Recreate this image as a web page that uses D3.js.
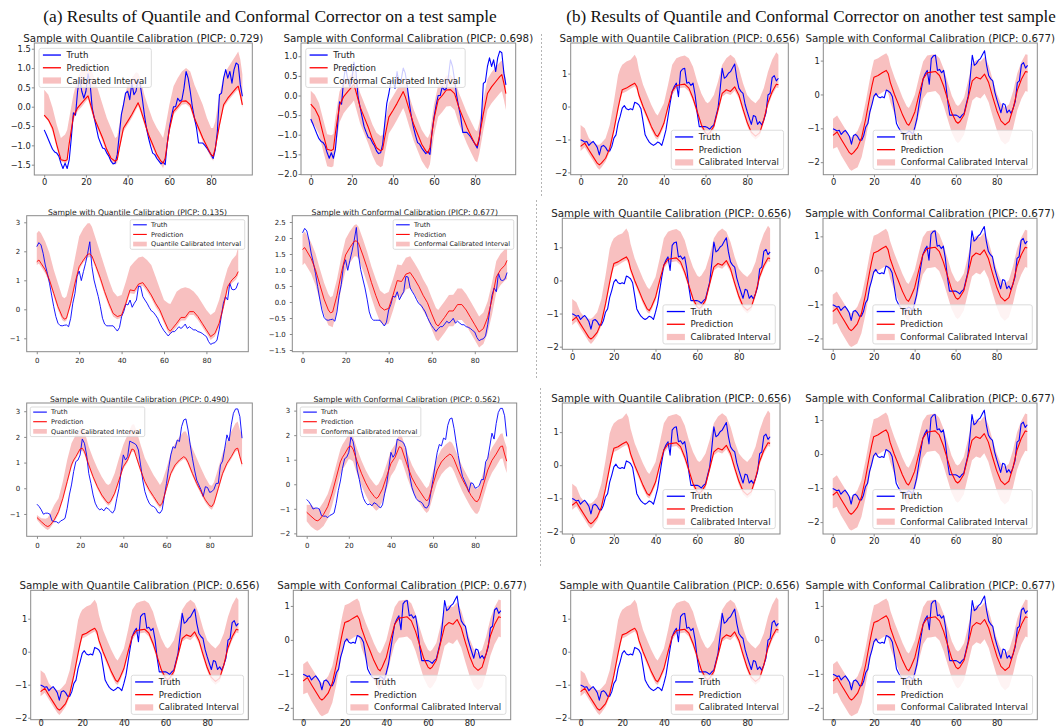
<!DOCTYPE html>
<html>
<head>
<meta charset="utf-8">
<script src="https://cdn.jsdelivr.net/npm/d3@7"></script>
<style>
  body { margin: 0; background: #fff; }
  svg { display: block; }
</style>
</head>
<body>
<svg id="fig" width="1061" height="728"></svg>
<script>
// ---------------- data ----------------
// time steps of the forecast horizon
const steps = d3.range(96);

// sample A
const truthA = [-0.60,-0.72,-0.85,-0.98,-1.10,-1.17,-1.20,-1.28,-1.46,-1.60,-1.46,-1.60,-1.37,-0.80,-0.16,-0.22,0.40,0.74,0.40,0.22,
  0.40,0.85,0.60,-0.03,-0.29,-0.55,-0.80,-0.94,-1.07,-1.09,-1.20,-1.28,-1.41,-1.48,-1.46,-1.24,-0.72,-0.20,0.05,0.35,
  0.40,0.18,0.61,0.31,0.40,0.70,0.57,0.22,-0.20,-0.55,-0.81,-1.02,-1.20,-1.24,-1.34,-1.41,-1.48,-1.43,-1.50,-0.94,
  -0.55,-0.25,0.00,0.00,0.22,0.14,0.18,0.48,0.91,0.74,0.40,0.00,-0.29,-0.55,-0.94,-0.94,-0.94,-1.00,-1.07,-1.16,
  -1.24,-1.34,-1.11,-0.64,0.31,0.35,0.74,0.96,0.74,0.91,0.61,0.96,1.13,1.09,0.57,0.27];
const gridA = [0,2,4,6,8,10,11,12,14,16,18,20,21,22,24,26,28,30,32,34,35,36,38,40,42,44,45,46,48,50,52,54,56,57,58,60,62,64,66,68,70,72,74,76,78,80,81,82,84,86,88,90,92,93,94,95];
const predA = [-0.22,-0.34,-0.55,-0.98,-1.37,-1.40,-1.37,-0.95,-0.25,-0.03,0.10,0.22,0.28,0.10,-0.29,-0.55,-0.81,-1.11,-1.33,-1.41,-1.37,-1.07,-0.55,-0.38,-0.20,0.00,0.10,-0.03,-0.38,-0.72,-0.98,-1.24,-1.41,-1.46,-1.33,-0.59,-0.12,0.00,0.14,0.15,0.05,-0.29,-0.55,-0.81,-1.03,-1.24,-1.28,-1.07,-0.47,0.05,0.22,0.35,0.48,0.53,0.31,0.05];
const quantUpA = [0.44,0.31,-0.03,-0.47,-0.81,-0.72,-0.60,-0.29,0.31,0.74,0.96,1.09,1.17,1.04,0.74,0.40,0.05,-0.29,-0.55,-0.81,-0.77,-0.47,0.14,0.57,0.74,0.89,0.87,0.74,0.31,-0.03,-0.34,-0.55,-0.72,-0.81,-0.55,0.05,0.53,0.74,0.91,1.00,0.91,0.57,0.31,0.05,-0.29,-0.55,-0.55,-0.38,0.31,0.78,1.00,1.17,1.34,1.43,1.22,0.83];
const quantLoA = [-0.25,-0.38,-0.64,-1.07,-1.41,-1.46,-1.44,-0.98,-0.34,-0.12,0.00,0.14,0.20,0.00,-0.38,-0.64,-0.90,-1.20,-1.41,-1.50,-1.45,-1.16,-0.64,-0.47,-0.29,-0.08,0.02,-0.12,-0.47,-0.81,-1.07,-1.33,-1.50,-1.59,-1.41,-0.68,-0.20,-0.08,0.05,0.07,-0.03,-0.38,-0.64,-0.90,-1.11,-1.33,-1.40,-1.16,-0.55,-0.03,0.14,0.27,0.40,0.44,0.22,-0.03];
const confUpA = [0.12,0.02,-0.19,-0.60,-0.99,-1.01,-0.98,-0.55,0.10,0.32,0.45,0.57,0.62,0.45,0.07,-0.19,-0.45,-0.74,-0.95,-1.03,-1.00,-0.70,-0.19,-0.02,0.16,0.36,0.46,0.33,-0.02,-0.35,-0.61,-0.87,-1.04,-1.08,-0.96,-0.22,0.25,0.37,0.51,0.52,0.42,0.08,-0.18,-0.44,-0.66,-0.87,-0.91,-0.70,-0.10,0.42,0.59,0.72,0.85,0.89,0.68,0.38];
const confLoA = [-0.68,-0.78,-0.98,-1.40,-1.80,-1.83,-1.80,-1.36,-0.68,-0.45,-0.32,-0.20,-0.13,-0.32,-0.71,-0.97,-1.23,-1.53,-1.75,-1.83,-1.79,-1.49,-0.97,-0.80,-0.62,-0.42,-0.32,-0.45,-0.80,-1.14,-1.40,-1.66,-1.83,-1.88,-1.75,-1.01,-0.54,-0.42,-0.28,-0.27,-0.37,-0.71,-0.97,-1.23,-1.45,-1.66,-1.70,-1.49,-0.89,-0.37,-0.20,-0.07,0.06,0.11,-0.11,-0.37];

// sample B
const truthB = [2.16,2.30,2.22,1.93,1.53,1.24,0.90,0.49,0.09,-0.25,-0.48,-0.56,-0.57,-0.55,-0.54,-0.60,-0.31,0.21,0.55,1.13,
  1.32,0.99,1.30,1.59,1.93,2.33,1.47,1.01,0.72,0.44,0.09,-0.31,-0.51,-0.57,-0.57,-0.57,-0.57,-0.66,-0.75,-0.63,
  -0.25,-0.08,0.18,0.15,0.32,0.07,0.21,0.32,0.80,0.78,0.44,0.32,0.21,0.07,-0.05,-0.10,-0.20,-0.31,-0.48,-0.62,
  -0.74,-0.83,-0.92,-0.83,-0.77,-0.77,-0.69,-0.60,-0.66,-0.60,-0.51,-0.66,-0.60,-0.66,-0.71,-0.71,-0.77,-0.79,-0.83,-0.89,
  -0.94,-1.11,-1.21,-1.17,-1.15,-1.06,-0.71,-0.25,0.21,0.44,0.32,0.90,0.69,0.67,0.72,0.92];
const gridB = [0,1,2,4,6,8,10,12,13,14,16,18,20,22,24,25,26,28,30,32,34,36,38,40,42,44,46,48,50,52,54,56,58,60,62,63,64,66,68,70,72,74,76,78,80,82,84,86,88,90,92,94,95];
const predB = [1.64,1.70,1.59,1.36,1.01,0.55,0.09,-0.25,-0.34,-0.31,0.21,0.90,1.47,1.70,1.90,1.91,1.84,1.47,1.07,0.61,0.21,-0.14,-0.25,-0.20,0.21,0.67,0.64,0.87,0.92,0.72,0.49,0.21,-0.02,-0.37,-0.69,-0.75,-0.66,-0.48,-0.28,-0.28,-0.08,-0.08,-0.25,-0.48,-0.71,-0.94,-0.83,-0.48,0.09,0.78,1.01,1.15,1.30];
const quantUpB = [2.62,2.71,2.62,2.33,1.93,1.36,0.90,0.44,0.38,0.44,1.01,1.76,2.51,2.79,2.97,2.97,2.85,2.39,1.93,1.47,1.01,0.61,0.44,0.49,0.95,1.47,1.64,1.79,1.82,1.70,1.53,1.13,0.72,0.32,0.21,0.18,0.32,0.61,0.72,0.76,0.72,0.61,0.44,0.21,-0.02,-0.20,-0.08,0.32,0.90,1.41,1.70,1.87,2.16];
const quantLoB = [1.53,1.58,1.47,1.24,0.90,0.44,-0.02,-0.37,-0.43,-0.39,0.11,0.80,1.38,1.61,1.79,1.80,1.75,1.36,0.95,0.49,0.09,-0.25,-0.34,-0.28,0.11,0.55,0.53,0.76,0.80,0.61,0.38,0.09,-0.14,-0.48,-0.80,-0.86,-0.77,-0.60,-0.39,-0.39,-0.20,-0.20,-0.37,-0.60,-0.83,-1.06,-0.94,-0.60,-0.02,0.67,0.90,1.03,1.18];
const confUpB = [2.12,2.20,2.10,1.86,1.52,1.05,0.60,0.25,0.15,0.19,0.71,1.40,1.97,2.21,2.40,2.43,2.35,1.98,1.57,1.11,0.72,0.36,0.25,0.31,0.71,1.17,1.15,1.38,1.43,1.22,0.99,0.71,0.48,0.13,-0.19,-0.25,-0.16,0.02,0.22,0.23,0.42,0.42,0.25,0.02,-0.21,-0.45,-0.33,0.02,0.59,1.28,1.51,1.65,1.72];
const confLoB = [1.15,1.22,1.11,0.88,0.53,0.07,-0.39,-0.73,-0.76,-0.79,-0.27,0.42,0.99,1.22,1.42,1.43,1.36,0.99,0.59,0.13,-0.27,-0.62,-0.73,-0.68,-0.27,0.19,0.16,0.39,0.44,0.24,0.01,-0.27,-0.50,-0.85,-1.17,-1.23,-1.14,-0.96,-0.76,-0.76,-0.56,-0.56,-0.73,-0.96,-1.19,-1.42,-1.31,-0.96,-0.39,0.30,0.53,0.67,0.72];

// sample C
const truthC = [-0.62,-0.71,-0.84,-1.01,-0.97,-0.97,-1.01,-1.27,-1.30,-1.30,-1.36,-1.27,-1.23,-1.17,-0.78,-0.26,0.13,0.65,1.04,1.10,
  1.30,1.92,1.75,1.30,0.58,0.19,-0.26,-0.58,-0.75,-0.84,-0.80,-0.88,-0.75,-0.80,-0.88,-0.97,-0.84,-0.39,0.00,0.65,
  1.30,1.10,1.23,1.84,1.79,1.75,1.69,1.49,0.91,0.32,-0.13,-0.39,-0.58,-0.68,-0.71,-0.78,-0.94,-0.97,-0.84,-0.32,
  0.19,0.78,1.30,1.62,1.56,1.88,1.82,2.40,2.66,2.70,2.27,1.69,1.17,0.71,0.32,0.13,-0.06,-0.32,0.06,0.03,
  -0.16,-0.13,-0.04,0.19,0.19,0.91,1.06,1.56,2.08,1.84,2.47,2.92,3.09,3.09,2.79,1.95];
const gridC = [0,2,4,5,6,8,10,12,14,16,17,18,20,21,22,24,26,28,30,32,33,34,36,38,40,42,44,45,46,48,50,52,54,56,57,58,60,62,64,66,68,69,70,72,74,76,78,80,81,82,84,86,88,90,92,93,94,95];
const predC = [-1.14,-1.30,-1.45,-1.49,-1.45,-1.23,-0.91,-0.39,0.26,0.91,1.10,1.23,1.53,1.56,1.43,0.91,0.45,0.06,-0.26,-0.49,-0.58,-0.52,-0.19,0.32,0.84,1.10,1.53,1.49,1.23,0.71,0.26,-0.06,-0.32,-0.58,-0.68,-0.58,0.00,0.58,0.91,1.10,1.23,1.17,1.01,0.58,0.19,-0.13,-0.45,-0.68,-0.71,-0.58,0.00,0.58,0.97,1.23,1.53,1.56,1.23,0.94];
const quantUpC = [-1.04,-1.17,-1.19,-1.15,-1.01,-0.65,-0.39,0.26,1.10,1.75,1.92,2.08,2.34,2.36,2.23,1.62,1.17,0.78,0.45,0.19,0.13,0.19,0.58,1.17,1.69,2.08,2.47,2.49,2.27,1.69,1.17,0.84,0.52,0.26,0.13,0.26,0.78,1.36,1.75,2.01,2.21,2.21,2.01,1.56,1.17,0.78,0.42,0.13,0.10,0.23,0.78,1.36,1.82,2.21,2.53,2.60,2.27,2.08];
const quantLoC = [-1.23,-1.43,-1.58,-1.62,-1.56,-1.32,-1.01,-0.49,0.16,0.81,1.00,1.14,1.43,1.45,1.32,0.81,0.36,-0.03,-0.36,-0.58,-0.68,-0.62,-0.29,0.23,0.75,1.01,1.43,1.40,1.14,0.62,0.16,-0.16,-0.42,-0.68,-0.78,-0.68,-0.10,0.49,0.81,1.01,1.14,1.08,0.91,0.49,0.10,-0.23,-0.55,-0.78,-0.84,-0.68,-0.10,0.49,0.88,1.14,1.43,1.46,1.14,0.81];
const confUpC = [-0.83,-0.85,-0.98,-1.02,-0.98,-0.72,-0.40,0.12,0.78,1.43,1.62,1.75,2.05,2.09,1.95,1.43,0.97,0.58,0.26,0.03,-0.06,0.00,0.33,0.84,1.36,1.62,2.05,2.01,1.75,1.23,0.78,0.46,0.20,-0.06,-0.16,-0.06,0.52,1.10,1.43,1.62,1.75,1.69,1.53,1.10,0.71,0.39,0.07,-0.16,-0.19,-0.06,0.52,1.10,1.49,1.75,2.05,2.08,1.75,1.50];
const confLoC = [-1.51,-1.72,-1.85,-1.89,-1.85,-1.70,-1.41,-0.89,-0.24,0.41,0.60,0.73,1.03,1.00,0.93,0.41,-0.05,-0.44,-0.76,-0.99,-1.08,-1.02,-0.69,-0.18,0.34,0.60,1.03,0.99,0.73,0.21,-0.24,-0.56,-0.82,-1.08,-1.17,-1.08,-0.50,0.08,0.41,0.60,0.73,0.67,0.51,0.08,-0.31,-0.63,-0.95,-1.18,-1.21,-1.08,-0.50,0.08,0.47,0.73,1.03,1.06,0.73,0.46];

// sample D
const truthD = [-1.01,-1.04,-1.08,-1.06,-1.18,-1.11,-1.06,-1.14,-1.24,-1.47,-1.21,-1.18,-1.24,-1.35,-1.35,-1.21,-0.96,-0.86,-0.51,-0.30,
  -0.05,0.03,-0.07,-0.10,-0.07,-0.10,0.13,0.10,0.05,-0.07,-0.46,-0.86,-0.98,-1.08,-1.14,-1.18,-1.14,-1.08,-1.11,-1.18,
  -0.96,-0.71,-0.30,0.10,0.46,0.61,0.71,0.30,1.06,1.14,1.16,0.71,0.74,0.64,0.71,0.35,-0.20,-0.61,-0.61,-0.61,
  -0.61,-0.64,-0.69,-0.61,-0.56,-0.30,-0.05,0.51,1.16,0.86,0.91,1.01,1.06,1.18,1.29,0.86,0.56,0.46,0.40,0.07,
  -0.15,-0.35,-0.54,-0.27,-0.30,-0.54,-0.46,-0.56,-0.40,-0.20,0.35,0.40,0.88,0.94,0.78,0.86];
const gridD = [0,2,4,6,8,9,10,12,14,16,18,19,20,22,24,26,27,28,30,32,34,36,37,38,40,42,44,46,48,50,52,54,56,58,60,61,62,64,66,68,70,72,74,76,78,80,82,84,86,88,90,92,94,95];
const predD = [-1.21,-1.11,-1.32,-1.52,-1.72,-1.77,-1.72,-1.57,-1.27,-0.71,-0.05,0.25,0.51,0.56,0.64,0.71,0.61,0.35,0.00,-0.30,-0.61,-0.86,-0.91,-0.80,-0.51,0.00,0.46,0.64,0.66,0.68,0.56,0.25,-0.15,-0.55,-0.80,-0.85,-0.80,-0.60,-0.10,0.40,0.51,0.46,0.60,0.35,-0.08,-0.48,-0.78,-0.90,-0.80,-0.40,0.12,0.45,0.68,0.66];
const quantUpD = [-0.56,-0.66,-0.96,-1.11,-1.16,-1.16,-1.11,-0.96,-0.56,0.15,0.96,1.15,1.27,1.37,1.42,1.57,1.45,1.11,0.66,0.35,0.05,-0.20,-0.27,-0.15,0.10,0.66,1.27,1.47,1.52,1.55,1.47,1.21,0.76,0.40,0.15,0.10,0.15,0.35,0.76,1.27,1.47,1.57,1.47,1.16,0.71,0.35,0.20,0.10,0.25,0.56,1.06,1.42,1.65,1.57];
const quantLoD = [-1.35,-1.24,-1.45,-1.65,-1.85,-1.92,-1.85,-1.67,-1.37,-0.81,-0.15,0.15,0.40,0.46,0.54,0.61,0.51,0.25,-0.10,-0.40,-0.71,-0.96,-1.01,-0.90,-0.61,-0.10,0.35,0.54,0.56,0.58,0.46,0.15,-0.25,-0.65,-0.90,-0.95,-0.90,-0.70,-0.20,0.30,0.40,0.35,0.48,0.25,-0.18,-0.58,-0.88,-1.00,-0.90,-0.50,0.02,0.35,0.58,0.56];
const confUpD = [-0.72,-0.62,-0.82,-1.02,-1.22,-1.27,-1.22,-1.07,-0.77,-0.20,0.46,0.76,1.02,1.07,1.15,1.22,1.12,0.86,0.51,0.21,-0.10,-0.35,-0.40,-0.29,0.00,0.51,0.97,1.15,1.17,1.19,1.07,0.76,0.36,-0.04,-0.29,-0.34,-0.29,-0.09,0.41,0.91,1.02,0.97,1.11,0.86,0.43,0.03,-0.27,-0.39,-0.29,0.11,0.63,0.96,1.19,1.17];
const confLoD = [-1.60,-1.55,-1.80,-2.00,-2.20,-2.25,-2.22,-2.15,-1.85,-1.29,-0.63,-0.33,-0.07,-0.02,0.06,0.13,0.03,-0.23,-0.58,-0.88,-1.19,-1.44,-1.49,-1.38,-1.09,-0.58,-0.12,0.06,0.08,0.10,-0.02,-0.33,-0.73,-1.13,-1.38,-1.43,-1.38,-1.18,-0.68,-0.18,-0.07,-0.12,0.02,-0.23,-0.66,-1.06,-1.36,-1.48,-1.38,-0.98,-0.46,-0.13,0.10,0.08];

const xTicks = [0, 20, 40, 60, 80];
const seriesNames = ["Truth", "Prediction"];

// ---------------- figure layout ----------------
const samples = {
  A: { truth: truthA, grid: gridA, pred: predA, q: [quantLoA, quantUpA], c: [confLoA, confUpA] },
  B: { truth: truthB, grid: gridB, pred: predB, q: [quantLoB, quantUpB], c: [confLoB, confUpB] },
  C: { truth: truthC, grid: gridC, pred: predC, q: [quantLoC, quantUpC], c: [confLoC, confUpC] },
  D: { truth: truthD, grid: gridD, pred: predD, q: [quantLoD, quantUpD], c: [confLoD, confUpD] }
};

const STYLE = {
  L: { title: 10.3, tick: 8.3, leg: 8.6, lw: 1.1, xl: 7.3, yl: 3.5 },
  S: { title: 7.7,  tick: 7.0, leg: 6.5, lw: 0.9, xl: 9.0, yl: 6.5 }
};

const t05 = [-2, -1.5, -1, -0.5, 0, 0.5, 1, 1.5, 2, 2.5];
const tInt = [-2, -1, 0, 1, 2, 3];

// f = plot frame [left, top, right, bottom]; xl overrides the gap below the frame for tick labels
const panels = [
  { s: "A", k: "q", picp: "0.729", leg: "Calibrated Interval", loc: "ul", sz: "L", f: [34.3, 43, 252.3, 175.0], y: [-1.767, 1.648], ticks: t05, fmt: ".1f" },
  { s: "A", k: "c", picp: "0.698", leg: "Conformal Calibrated Interval", loc: "ul", sz: "L", f: [301.0, 43, 515.7, 174.7], y: [-2.018, 1.338], ticks: t05, fmt: ".1f" },
  { s: "B", k: "q", picp: "0.135", leg: "Quantile Calibrated Interval", loc: "ur", sz: "S", f: [26.7, 215.7, 248.3, 351.7], y: [-1.462, 3.228], ticks: tInt, fmt: "d" },
  { s: "B", k: "c", picp: "0.677", leg: "Conformal Calibrated Interval", loc: "ur", sz: "S", f: [292.3, 215.7, 517.3, 351.7], y: [-1.553, 2.697], ticks: t05, fmt: ".1f" },
  { s: "C", k: "q", picp: "0.490", leg: "Quantile Calibrated Interval", loc: "ul", sz: "S", f: [26.7, 403, 252.3, 536.3], y: [-1.87, 3.32], ticks: tInt, fmt: "d" },
  { s: "C", k: "c", picp: "0.562", leg: "Conformal Calibrated Interval", loc: "ul", sz: "S", f: [296.7, 403, 516.7, 536.3], y: [-2.12, 3.31], ticks: tInt, fmt: "d" },
  { s: "D", k: "q", picp: "0.656", leg: "Calibrated Interval", loc: "lr", sz: "L", f: [30.7, 590.3, 248.3, 719.7], y: [-2.06, 1.86], ticks: tInt, fmt: "d", xl: 3.6 },
  { s: "D", k: "c", picp: "0.677", leg: "Conformal Calibrated Interval", loc: "lr", sz: "L", f: [293.3, 590.3, 510.7, 719.7], y: [-2.35, 1.46], ticks: tInt, fmt: "d", xl: 3.6 },
  { s: "D", k: "q", picp: "0.656", leg: "Calibrated Interval", loc: "lr", sz: "L", f: [570.7, 43, 788.3, 174.7], y: [-2.07, 1.93], ticks: tInt, fmt: "d" },
  { s: "D", k: "c", picp: "0.677", leg: "Conformal Calibrated Interval", loc: "lr", sz: "L", f: [823.3, 43, 1037.3, 174.7], y: [-2.37, 1.52], ticks: tInt, fmt: "d" },
  { s: "D", k: "q", picp: "0.656", leg: "Calibrated Interval", loc: "lr", sz: "L", f: [562.3, 218.3, 780.0, 349.3], y: [-2.08, 1.876], ticks: tInt, fmt: "d" },
  { s: "D", k: "c", picp: "0.677", leg: "Conformal Calibrated Interval", loc: "lr", sz: "L", f: [823.0, 218.3, 1037.0, 349.3], y: [-2.32, 1.53], ticks: tInt, fmt: "d" },
  { s: "D", k: "q", picp: "0.656", leg: "Calibrated Interval", loc: "lr", sz: "L", f: [562.3, 403, 780.0, 534], y: [-2.08, 1.88], ticks: tInt, fmt: "d" },
  { s: "D", k: "c", picp: "0.677", leg: "Conformal Calibrated Interval", loc: "lr", sz: "L", f: [823.0, 403, 1037.0, 534], y: [-2.35, 1.50], ticks: tInt, fmt: "d" },
  { s: "D", k: "q", picp: "0.656", leg: "Calibrated Interval", loc: "lr", sz: "L", f: [570.7, 590.3, 788.3, 719.7], y: [-2.06, 1.86], ticks: tInt, fmt: "d", xl: 3.6 },
  { s: "D", k: "c", picp: "0.677", leg: "Conformal Calibrated Interval", loc: "lr", sz: "L", f: [823.3, 590.3, 1037.3, 719.7], y: [-2.35, 1.46], ticks: tInt, fmt: "d", xl: 3.6 }
];

const COL = { truth: "#0000ff", pred: "#ff0000", band: "rgba(232, 60, 60, 0.32)", frame: "#8a8a8a", text: "#222" };
const FONT = "'DejaVu Sans', sans-serif";

const svg = d3.select("#fig");
svg.append("rect").attr("width", 1061).attr("height", 728).attr("fill", "#fff");

// group headings
const heads = [
  { text: "(a) Results of Quantile and Conformal Corrector on a test sample", cx: 270, width: 454 },
  { text: "(b) Results of Quantile and Conformal Corrector on another test sample", cx: 811, width: 490 }
];
heads.forEach(h => {
  const t = svg.append("text")
    .attr("x", h.cx).attr("y", 21.5)
    .attr("text-anchor", "middle")
    .attr("font-family", "'Liberation Serif', 'Times New Roman', serif")
    .attr("font-size", 17).attr("fill", "#111")
    .text(h.text);
  const w = t.node().getComputedTextLength();
  t.attr("font-size", 17 * h.width / w);
});

// dashed separators between the two halves
const seps = [
  { x: 541.5, y0: 34, y1: 196 },
  { x: 536.5, y0: 200, y1: 378 },
  { x: 540.5, y0: 388, y1: 567 }
];
seps.forEach(s => svg.append("line")
  .attr("x1", s.x).attr("x2", s.x).attr("y1", s.y0).attr("y2", s.y1)
  .attr("stroke", "#b5b5b5").attr("stroke-width", 1).attr("stroke-dasharray", "2,2"));

panels.forEach(p => drawPanel(p));

function drawPanel(p) {
  const st = STYLE[p.sz];
  const d = samples[p.s];
  const [x0, y0, x1, y1] = p.f;
  const x = d3.scaleLinear().domain([-4.75, 99.75]).range([x0, x1]);
  const y = d3.scaleLinear().domain(p.y).range([y1, y0]);
  const g = svg.append("g");
  const clipId = "clip" + Math.round(x0) + "_" + Math.round(y0);
  g.append("clipPath").attr("id", clipId)
    .append("rect").attr("x", x0).attr("y", y0).attr("width", x1 - x0).attr("height", y1 - y0);
  const plot = g.append("g").attr("clip-path", `url(#${clipId})`);

  const [lo, hi] = d[p.k];
  const bandRows = d.grid.map((t, i) => ({ t, lo: lo[i], hi: hi[i] }));
  plot.append("path")
    .attr("d", d3.area().x(r => x(r.t)).y0(r => y(r.lo)).y1(r => y(r.hi))(bandRows))
    .attr("fill", COL.band).attr("stroke", "none");

  plot.append("path")
    .attr("d", d3.line().x((v, i) => x(steps[i])).y(v => y(v))(d.truth))
    .attr("fill", "none").attr("stroke", COL.truth).attr("stroke-width", st.lw).attr("stroke-linejoin", "round");

  plot.append("path")
    .attr("d", d3.line().x((v, i) => x(d.grid[i])).y(v => y(v))(d.pred))
    .attr("fill", "none").attr("stroke", COL.pred).attr("stroke-width", st.lw).attr("stroke-linejoin", "round");

  // frame
  g.append("rect").attr("x", x0).attr("y", y0).attr("width", x1 - x0).attr("height", y1 - y0)
    .attr("fill", "none").attr("stroke", COL.frame).attr("stroke-width", 1);

  // axes
  const fmt = d3.format(p.fmt);
  const xa = d3.axisBottom(x).tickValues(xTicks).tickSize(2.5).tickPadding(1).tickFormat(d3.format("d"));
  const gx = g.append("g").attr("transform", `translate(0,${y1})`).call(xa);
  const yt = p.ticks.filter(v => v >= p.y[0] && v <= p.y[1]);
  const ya = d3.axisLeft(y).tickValues(yt).tickSize(2.5).tickPadding(1).tickFormat(fmt);
  const gy = g.append("g").attr("transform", `translate(${x0},0)`).call(ya);
  [gx, gy].forEach(a => {
    a.select(".domain").remove();
    a.selectAll(".tick line").attr("stroke", COL.frame);
    a.selectAll(".tick text").attr("font-family", FONT).attr("font-size", st.tick).attr("fill", COL.text);
  });
  const xl = p.xl !== undefined ? p.xl : st.xl;
  gx.selectAll(".tick text").attr("dy", null).attr("y", xl + st.tick * 0.36);
  gy.selectAll(".tick text").attr("x", -st.yl);

  // title
  const kindName = p.k === "q" ? "Quantile" : "Conformal";
  g.append("text")
    .attr("x", (x0 + x1) / 2).attr("y", y0 - (p.sz === "L" ? 1.0 : 1.2))
    .attr("text-anchor", "middle").attr("font-family", FONT).attr("font-size", st.title).attr("fill", COL.text)
    .text(`Sample with ${kindName} Calibration (PICP: ${p.picp})`);

  // legend
  const fs = st.leg;
  const labels = [...seriesNames, p.leg];
  const lg = g.append("g");
  const tmp = lg.append("text").attr("font-family", FONT).attr("font-size", fs).text(p.leg);
  const tw = tmp.node().getComputedTextLength();
  tmp.remove();
  const bw = tw + 3.75 * fs, bh = 4.55 * fs;
  const padX = 0.55 * fs, padY = 0.62 * fs;
  const bx = p.loc === "ul" ? x0 + padX : x1 - padX - bw;
  const by = p.loc === "lr" ? y1 - padY - bh : y0 + padY;
  lg.append("rect").attr("x", bx).attr("y", by).attr("width", bw).attr("height", bh)
    .attr("rx", 0.25 * fs).attr("fill", "#fff").attr("fill-opacity", 0.8)
    .attr("stroke", "#d3d3d3").attr("stroke-width", 0.8);
  labels.forEach((lab, i) => {
    const cy = by + 0.78 * fs + i * 1.48 * fs;
    const hx = bx + 0.45 * fs, hw = 2.1 * fs;
    if (i < 2) {
      lg.append("line").attr("x1", hx).attr("x2", hx + hw).attr("y1", cy).attr("y2", cy)
        .attr("stroke", i === 0 ? COL.truth : COL.pred).attr("stroke-width", st.lw * 1.2);
    } else {
      lg.append("rect").attr("x", hx).attr("y", cy - 0.36 * fs).attr("width", hw).attr("height", 0.72 * fs)
        .attr("fill", COL.band);
    }
    lg.append("text").attr("x", bx + 3.2 * fs).attr("y", cy + 0.36 * fs)
      .attr("font-family", FONT).attr("font-size", fs).attr("fill", COL.text).text(lab);
  });
}
</script>
</body>
</html>
